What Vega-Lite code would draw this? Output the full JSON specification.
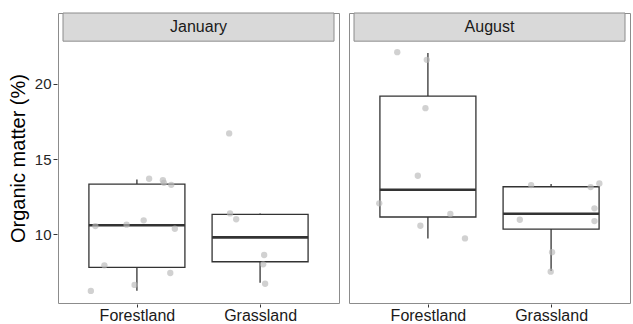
{
  "$schema": "https://vega.github.io/schema/vega-lite/v6.json",
  "padding": {"left": 8, "top": 12, "right": 1, "bottom": 0},
  "background": "white",
  "config": {
    "font": "Liberation Sans",
    "view": {"stroke": "#8c8c8c", "strokeWidth": 1},
    "axis": {"grid": false, "domain": false}
  },
  "data": {"values": [
    {"month": "January", "type": "Forestland", "idx": 1, "lo": 6.26, "q1": 7.81, "med": 10.6, "q3": 13.34, "hi": 13.65},
    {"month": "January", "type": "Grassland", "idx": 2, "lo": 6.79, "q1": 8.18, "med": 9.8, "q3": 11.33, "hi": 11.39},
    {"month": "August", "type": "Forestland", "idx": 1, "lo": 9.73, "q1": 11.15, "med": 12.96, "q3": 19.18, "hi": 22.05},
    {"month": "August", "type": "Grassland", "idx": 2, "lo": 7.56, "q1": 10.35, "med": 11.37, "q3": 13.16, "hi": 13.34},
    {"month": "January", "type": "Forestland", "om": 13.69, "pos": 1.099},
    {"month": "January", "type": "Forestland", "om": 13.6, "pos": 1.211},
    {"month": "January", "type": "Forestland", "om": 13.42, "pos": 1.219},
    {"month": "January", "type": "Forestland", "om": 13.29, "pos": 1.279},
    {"month": "January", "type": "Forestland", "om": 10.55, "pos": 0.663},
    {"month": "January", "type": "Forestland", "om": 10.64, "pos": 0.916},
    {"month": "January", "type": "Forestland", "om": 10.93, "pos": 1.055},
    {"month": "January", "type": "Forestland", "om": 10.37, "pos": 1.308},
    {"month": "January", "type": "Forestland", "om": 7.94, "pos": 0.736},
    {"month": "January", "type": "Forestland", "om": 7.43, "pos": 1.271},
    {"month": "January", "type": "Forestland", "om": 6.64, "pos": 0.981},
    {"month": "January", "type": "Forestland", "om": 6.24, "pos": 0.626},
    {"month": "January", "type": "Grassland", "om": 16.7, "pos": 1.749},
    {"month": "January", "type": "Grassland", "om": 11.39, "pos": 1.756},
    {"month": "January", "type": "Grassland", "om": 11.0, "pos": 1.806},
    {"month": "January", "type": "Grassland", "om": 8.63, "pos": 2.033},
    {"month": "January", "type": "Grassland", "om": 8.01, "pos": 2.025},
    {"month": "January", "type": "Grassland", "om": 6.72, "pos": 2.041},
    {"month": "August", "type": "Forestland", "om": 22.1, "pos": 0.751},
    {"month": "August", "type": "Forestland", "om": 21.59, "pos": 0.991},
    {"month": "August", "type": "Forestland", "om": 18.38, "pos": 0.98},
    {"month": "August", "type": "Forestland", "om": 13.89, "pos": 0.918},
    {"month": "August", "type": "Forestland", "om": 12.06, "pos": 0.605},
    {"month": "August", "type": "Forestland", "om": 11.35, "pos": 1.182},
    {"month": "August", "type": "Forestland", "om": 10.57, "pos": 0.939},
    {"month": "August", "type": "Forestland", "om": 9.73, "pos": 1.301},
    {"month": "August", "type": "Grassland", "om": 13.27, "pos": 1.838},
    {"month": "August", "type": "Grassland", "om": 13.14, "pos": 2.321},
    {"month": "August", "type": "Grassland", "om": 13.38, "pos": 2.392},
    {"month": "August", "type": "Grassland", "om": 11.73, "pos": 2.352},
    {"month": "August", "type": "Grassland", "om": 10.88, "pos": 2.352},
    {"month": "August", "type": "Grassland", "om": 10.97, "pos": 1.746},
    {"month": "August", "type": "Grassland", "om": 8.81, "pos": 2.008},
    {"month": "August", "type": "Grassland", "om": 7.52, "pos": 1.997}
  ]},
  "facet": {
    "column": {"field": "month", "type": "nominal", "sort": ["January", "August"], "header": {"title": null, "labels": false}}
  },
  "spacing": 8,
  "spec": {
    "width": 281,
    "height": 290,
    "layer": [
      {
        "transform": [{"filter": "isValid(datum.med)"}, {"aggregate": [{"op": "count", "as": "n"}], "groupby": ["month"]}],
        "mark": {"type": "rect", "fill": "#d9d9d9", "stroke": "#8c8c8c", "strokeWidth": 1},
        "encoding": {
          "x": {"datum": 0.4, "type": "quantitative",
            "scale": {"domain": [0.4, 2.6], "nice": false, "zero": false},
            "title": null,
            "axis": {"title": null, "values": [1, 2], "labelExpr": "datum.value == 1 ? 'Forestland' : 'Grassland'", "labelFontSize": 16, "labelColor": "#1a1a1a", "tickColor": "#333", "tickSize": 3, "labelPadding": 0}
          },
          "x2": {"datum": 2.6},
          "y": {"datum": 22.83, "type": "quantitative",
            "scale": {"domain": [5.44, 24.7], "nice": false, "zero": false},
            "title": "Organic matter (%)",
            "axis": {"title": "Organic matter (%)", "values": [10, 15, 20], "labelFontSize": 15, "labelColor": "#262626", "tickColor": "#333", "tickSize": 4, "labelPadding": 2, "titleFontSize": 20, "titleFontWeight": "normal", "titleColor": "black", "titlePadding": 6}
          },
          "y2": {"datum": 24.7}
        }
      },
      {
        "transform": [{"filter": "isValid(datum.med)"}, {"aggregate": [{"op": "count", "as": "n"}], "groupby": ["month"]}],
        "mark": {"type": "text", "fontSize": 16, "color": "#1a1a1a", "baseline": "middle", "align": "center"},
        "encoding": {
          "x": {"datum": 1.5, "type": "quantitative"},
          "y": {"datum": 23.77, "type": "quantitative"},
          "text": {"field": "month"}
        }
      },
      {
        "transform": [{"filter": "isValid(datum.med)"}],
        "mark": {"type": "rule", "color": "#333", "strokeWidth": 1.3},
        "encoding": {
          "x": {"field": "idx", "type": "quantitative"},
          "y": {"field": "lo", "type": "quantitative"}, "y2": {"field": "q1"}
        }
      },
      {
        "transform": [{"filter": "isValid(datum.med)"}],
        "mark": {"type": "rule", "color": "#333", "strokeWidth": 1.3},
        "encoding": {
          "x": {"field": "idx", "type": "quantitative"},
          "y": {"field": "q3", "type": "quantitative"}, "y2": {"field": "hi"}
        }
      },
      {
        "transform": [{"filter": "isValid(datum.med)"}],
        "mark": {"type": "bar", "size": 96, "fill": "white", "stroke": "#333", "strokeWidth": 1.3, "orient": "vertical"},
        "encoding": {
          "x": {"field": "idx", "type": "quantitative"},
          "y": {"field": "q1", "type": "quantitative"}, "y2": {"field": "q3"}
        }
      },
      {
        "transform": [{"filter": "isValid(datum.med)"}],
        "mark": {"type": "tick", "size": 96, "thickness": 2.6, "color": "#333", "opacity": 1, "orient": "horizontal"},
        "encoding": {
          "x": {"field": "idx", "type": "quantitative"},
          "y": {"field": "med", "type": "quantitative"}
        }
      },
      {
        "transform": [{"filter": "isValid(datum.om)"}],
        "mark": {"type": "point", "filled": true, "color": "#b8b8b8", "opacity": 0.65, "size": 40},
        "encoding": {
          "x": {"field": "pos", "type": "quantitative"},
          "y": {"field": "om", "type": "quantitative"}
        }
      }
    ]
  }
}
